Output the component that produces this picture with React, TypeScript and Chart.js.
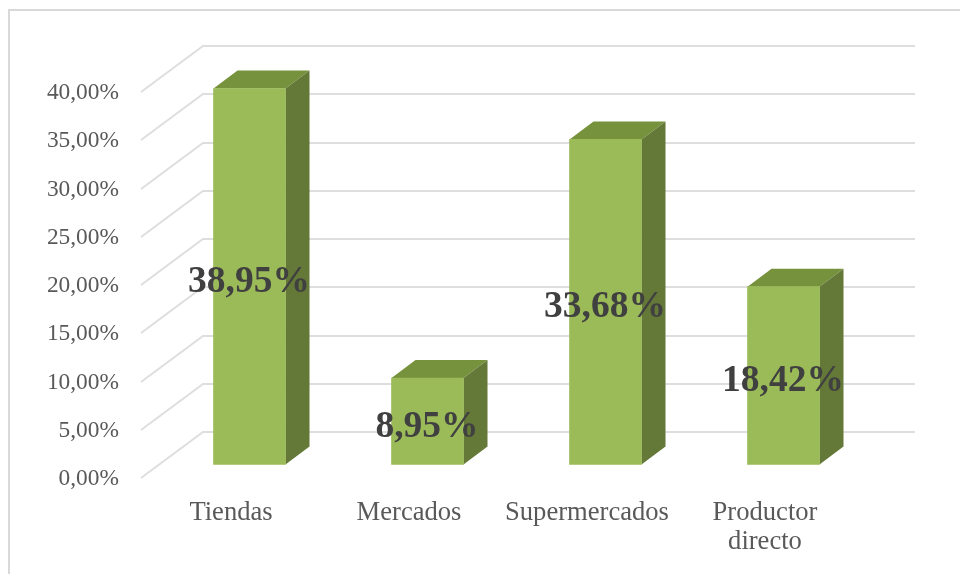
import React, { useEffect, useRef } from "react";
import { Chart, registerables } from "chart.js";

Chart.register(...registerables);

const categories: (string | string[])[] = ["Tiendas", "Mercados", "Supermercados", ["Productor", "directo"]];
const shares = [38.95, 8.95, 33.68, 18.42];

const fmt = (v: number) => v.toFixed(2).replace(".", ",") + "%";

const WALL_DX = 61;
const WALL_DY = 46;
const BAR_DX = 18.5;
const BAR_DY = 13.6;
const DEPTH_X = 24;
const DEPTH_Y = 18;

const threeD = {
  id: "threeD",
  beforeDraw(chart: any) {
    const { ctx, width, height } = chart;
    ctx.save();
    ctx.strokeStyle = "#d9d9d9";
    ctx.lineWidth = 2;
    ctx.beginPath();
    ctx.moveTo(9, height);
    ctx.lineTo(9, 10);
    ctx.lineTo(width, 10);
    ctx.stroke();
    ctx.restore();
  },
  beforeDatasetsDraw(chart: any) {
    const { ctx, chartArea, scales } = chart;
    const y = scales.y;
    ctx.save();
    ctx.strokeStyle = "#dedede";
    ctx.lineWidth = 2;
    y.ticks.forEach((t: any) => {
      const py = Math.round(y.getPixelForValue(t.value));
      ctx.beginPath();
      ctx.moveTo(chartArea.left - 1, py);
      ctx.lineTo(chartArea.left + WALL_DX, py - WALL_DY);
      ctx.lineTo(chartArea.right + WALL_DX, py - WALL_DY);
      ctx.stroke();
    });
    ctx.restore();
    ctx.save();
    ctx.translate(BAR_DX, -BAR_DY);
    chart.getDatasetMeta(0).data.forEach((el: any) => {
      const l = el.x - el.width / 2;
      const r = el.x + el.width / 2;
      const t = el.y;
      const b = el.base;
      ctx.fillStyle = "#76923c";
      ctx.beginPath();
      ctx.moveTo(l, t);
      ctx.lineTo(l + DEPTH_X, t - DEPTH_Y);
      ctx.lineTo(r + DEPTH_X, t - DEPTH_Y);
      ctx.lineTo(r, t);
      ctx.closePath();
      ctx.fill();
      ctx.fillStyle = "#647838";
      ctx.beginPath();
      ctx.moveTo(r, t);
      ctx.lineTo(r + DEPTH_X, t - DEPTH_Y);
      ctx.lineTo(r + DEPTH_X, b - DEPTH_Y);
      ctx.lineTo(r, b);
      ctx.closePath();
      ctx.fill();
    });
  },
  afterDatasetsDraw(chart: any) {
    const { ctx } = chart;
    ctx.restore();
    ctx.save();
    ctx.fillStyle = "#404040";
    ctx.font = 'bold 37.5px "Liberation Serif"';
    ctx.textAlign = "center";
    ctx.textBaseline = "middle";
    chart.getDatasetMeta(0).data.forEach((el: any, i: number) => {
      ctx.fillText(fmt(shares[i]), el.x + BAR_DX - 0.5, (el.y + el.base) / 2 - BAR_DY + 5.6);
    });
    ctx.restore();
  },
};

export default function App() {
  const ref = useRef<HTMLCanvasElement>(null);
  useEffect(() => {
    const chart = new Chart(ref.current!, {
      type: "bar",
      data: {
        labels: categories as any,
        datasets: [
          {
            data: shares,
            backgroundColor: "#9bbb59",
            borderWidth: 0,
            barThickness: 72,
            clip: false as any,
          },
        ],
      },
      options: {
        animation: false,
        responsive: false,
        layout: { padding: { left: 0, right: 106, top: 92, bottom: 0 } },
        plugins: { legend: { display: false }, tooltip: { enabled: false } },
        scales: {
          x: {
            grid: { display: false },
            border: { display: false },
            afterFit: (s: any) => {
              s.height = 96;
            },
            ticks: {
              color: "#595959",
              padding: 12,
              maxRotation: 0,
              autoSkip: false,
              font: { family: '"Liberation Serif"', size: 26.6, lineHeight: 1.11 },
            },
          },
          y: {
            min: 0,
            max: 40,
            grid: { display: false },
            border: { display: false },
            afterFit: (s: any) => {
              s.width = 142;
            },
            ticks: {
              stepSize: 5,
              color: "#595959",
              padding: 15,
              labelOffset: 1,
              callback: (v: any) => fmt(Number(v)),
              font: { family: '"Liberation Serif"', size: 23.4 },
            },
          },
        },
      },
      plugins: [threeD],
    });
    return () => chart.destroy();
  }, []);
  return (
    <canvas
      ref={ref}
      width={960}
      height={574}
      style={{ position: "fixed", left: 0, top: 0, display: "block" }}
    />
  );
}
